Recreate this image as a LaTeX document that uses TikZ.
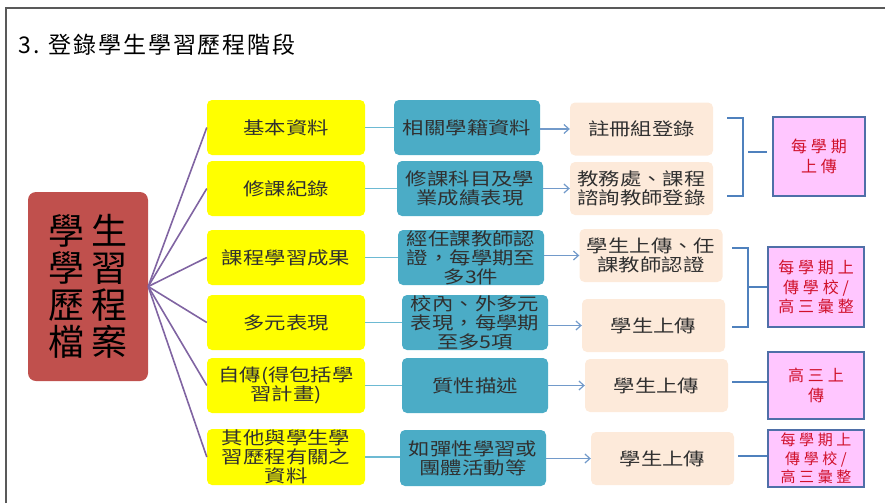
\documentclass[tikz,border=0pt]{standalone}
\usepackage{fontspec}
\usepackage{tikz}
\usetikzlibrary{arrows.meta}
\newfontfamily\cjktitle[LetterSpace=8]{Noto Sans CJK TC}
\newfontfamily\cjkwide[FakeStretch=1.22]{Noto Sans CJK TC}
\newfontfamily\cjkbig[LetterSpace=22]{Noto Sans CJK TC}
\newfontfamily\cjkpink[LetterSpace=24]{Noto Sans CJK TC}
\definecolor{boxyellow}{HTML}{FFFF00}
\definecolor{boxteal}{HTML}{4BACC6}
\definecolor{boxpeach}{HTML}{FDEADA}
\definecolor{boxred}{HTML}{C0504D}
\definecolor{boxpink}{HTML}{FFC6FF}
\definecolor{pinkedge}{HTML}{4F6FA8}
\definecolor{pinktext}{HTML}{D0102A}
\definecolor{linepurple}{HTML}{8064A2}
\definecolor{lineblue}{HTML}{4F81BD}
\definecolor{lineteal}{HTML}{6DBAD3}
\definecolor{textgray}{HTML}{303030}

\begin{document}
\begin{tikzpicture}[x=1pt,y=-1pt,
    yellowbox/.style={fill=boxyellow,rounded corners=5pt,minimum width=158pt,
      minimum height=55pt,inner sep=0pt,align=center,text=textgray,
      font=\cjkwide\fontsize{17.5}{19}\selectfont},
    tealbox/.style={yellowbox,fill=boxteal,minimum width=146pt},
    peachbox/.style={yellowbox,fill=boxpeach,minimum width=143pt,minimum height=53pt},
    pinkbox/.style={draw=pinkedge,line width=2pt,fill=boxpink,minimum width=96pt,
      inner sep=0pt,align=center,text=pinktext,
      font=\cjkpink\fontsize{16}{19.5}\selectfont},
    spoke/.style={linepurple,line width=1.6pt},
    link/.style={lineteal,line width=1.6pt},
    step arrow/.style={lineblue!80,line width=1.2pt,-{Straight Barb[length=5pt,width=9pt]}},
    brace/.style={lineblue,line width=1.5pt}]
  \useasboundingbox (0,0) rectangle (885,503);
  \draw[black!65,line width=2pt] (6,503) -- (6,8) -- (885,8);
  \node[anchor=west,font=\cjktitle\fontsize{23}{25}\selectfont] (title) at (15,45)
    {3. 登錄學生學習歷程階段};

  \node[fill=boxred,rounded corners=8pt,minimum width=120pt,minimum height=189pt,
    inner sep=0pt,align=center,font=\cjkbig\fontsize{36}{37}\selectfont]
    (folio) at (88,286.5) {學生\\學習\\歷程\\檔案};

  \node[yellowbox] (y1) at (286,127.5) {基本資料};
  \node[yellowbox] (y2) at (286,188.5) {修課紀錄};
  \node[yellowbox] (y3) at (286,257.5) {課程學習成果};
  \node[yellowbox] (y4) at (286,322.5) {多元表現};
  \node[yellowbox] (y5) at (286,385.5) {自傳(得包括學\\習計畫)};
  \node[yellowbox,minimum height=56pt] (y6) at (286,457) {其他與學生學\\習歷程有關之\\資料};

  \node[tealbox] (b1) at (467,127.5) {相關學籍資料};
  \node[tealbox] (b2) at (470,188.5) {修課科目及學\\業成績表現};
  \node[tealbox] (b3) at (471,257.5) {經任課教師認\\證，每學期至\\多3件};
  \node[tealbox] (b4) at (475,322.5) {校內、外多元\\表現，每學期\\至多5項};
  \node[tealbox] (b5) at (475,385.5) {質性描述};
  \node[tealbox,minimum height=56pt] (b6) at (473,458) {如彈性學習或\\團體活動等};

  \node[peachbox] (p1) at (641.5,129) {註冊組登錄};
  \node[peachbox] (p2) at (641.5,188.5) {教務處、課程\\諮詢教師登錄};
  \node[peachbox] (p3) at (651,255.5) {學生上傳、任\\課教師認證};
  \node[peachbox] (p4) at (653.5,325.5) {學生上傳};
  \node[peachbox] (p5) at (656.5,385.5) {學生上傳};
  \node[peachbox] (p6) at (662.5,458.5) {學生上傳};

  \node[pinkbox,minimum width=92pt,minimum height=79pt] (k1) at (819,156.5) {每學期\\上傳};
  \node[pinkbox,minimum height=80pt] (k2) at (816,287) {每學期上\\傳學校/\\高三彙整};
  \node[pinkbox,minimum height=67pt] (k3) at (816,385.5) {高三上\\傳};
  \node[pinkbox,minimum height=57pt,font=\cjkpink\fontsize{15}{18.5}\selectfont]
    (k4) at (816,458.5) {每學期上\\傳學校/\\高三彙整};

  \foreach \i in {1,...,6} {
    \draw[spoke] (folio.east) -- (y\i.west);
    \draw[link] (y\i.east) -- (b\i.west |- y\i.east);
    \draw[step arrow] (b\i.east |- p\i.west) -- (p\i.west);
  }

  \coordinate (g1a) at (727,118);  \coordinate (g1b) at (743,118);
  \coordinate (g1c) at (743,196);  \coordinate (g1d) at (727,196);
  \coordinate (g1m) at (748,152);
  \draw[brace] (g1a) -- (g1b) -- (g1c) -- (g1d);
  \draw[brace] (g1m) -- ([xshift=-5pt]k1.west |- g1m);

  \coordinate (g2a) at (732,248);  \coordinate (g2b) at (748,248);
  \coordinate (g2c) at (748,327);  \coordinate (g2d) at (732,327);
  \draw[brace] (g2a) -- (g2b) -- (g2c) -- (g2d);
  \draw[brace] (g2b |- k2.west) -- (k2.west);

  \coordinate (g3) at (732,382);
  \draw[brace] (g3) -- (k3.west |- g3);
  \coordinate (g4) at (738,456);
  \draw[brace] (g4) -- (k4.west |- g4);
\end{tikzpicture}
\end{document}
